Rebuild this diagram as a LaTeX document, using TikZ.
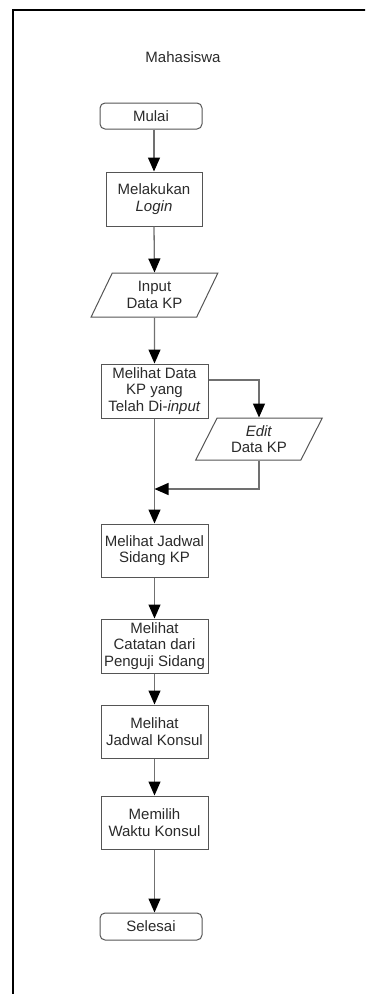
\documentclass[tikz,border=0pt]{standalone}
\usepackage{fontspec}
\setmainfont{Liberation Sans}
\usetikzlibrary{shapes.geometric,arrows.meta}
\definecolor{txt}{HTML}{2A2A2A}
\definecolor{edge}{HTML}{555555}
\definecolor{conn}{HTML}{707070}
\tikzset{
  base/.style={draw=edge, line width=1pt, text=txt, align=center, inner sep=1pt,
    font=\fontsize{15}{16.5}\selectfont},
  term/.style={base, rounded corners=5pt, minimum width=102pt, minimum height=26pt},
  proc/.style={base, minimum width=107pt, minimum height=54pt},
  io/.style={base, trapezium, trapezium left angle=63.4, trapezium right angle=116.6,
    trapezium stretches=true, minimum width=127pt, minimum height=44pt},
  flow/.style={draw=conn, line width=1.3pt, -{Triangle[width=12pt,length=14pt,color=black]}},
  plain/.style={draw=conn, line width=1.3pt}
}
\begin{document}
\begin{tikzpicture}[x=1pt,y=-1pt]
\useasboundingbox (0,0) rectangle (365,994);
\clip (0,0) rectangle (365,994);
\draw[line width=2.4pt] (13,1100) -- (13,10) -- (420,10);
\node[text=txt, font=\fontsize{15}{16.5}\selectfont] (title) at (183,57) {Mahasiswa};
\node[term] (mulai) at (151,116) {Mulai};
\node[proc, minimum width=96pt] (login) at (154,199) {Melakukan\\\textit{Login}};
\node[io] (input) at (154.5,295) {Input\\Data KP};
\node[proc] (mdata) at (154.5,391) {Melihat Data\\KP yang\\Telah Di-\textit{input}};
\node[io, minimum height=42pt] (edit) at (259,439) {\textit{Edit}\\Data KP};
\node[proc, minimum height=53pt] (jadwal) at (154.5,550.5) {Melihat Jadwal\\Sidang KP};
\node[proc] (catatan) at (154.5,646) {Melihat\\Catatan dari\\Penguji Sidang};
\node[proc, minimum height=53pt] (konsul) at (154.5,731.5) {Melihat\\Jadwal Konsul};
\node[proc, minimum height=53pt] (memilih) at (154.5,822.5) {Memilih\\Waktu Konsul};
\node[term, minimum height=27pt] (selesai) at (151,926.5) {Selesai};
\coordinate (join) at (154.5,489);
\draw[flow] (login.north |- mulai.south) -- (login.north);
\draw[flow] (login.south) -- (input.north);
\draw[flow] (input.south) -- (mdata.north);
\draw[flow] ([yshift=11pt]mdata.east) -| (edit.north);
\draw[flow] (edit.south) |- (join);
\draw[flow] (mdata.south) -- (jadwal.north);
\draw[flow] (jadwal.south) -- (catatan.north);
\draw[flow] (catatan.south) -- (konsul.north);
\draw[flow] (konsul.south) -- (memilih.north);
\draw[flow] (memilih.south) -- (memilih.south |- selesai.north);
\end{tikzpicture}
\end{document}
